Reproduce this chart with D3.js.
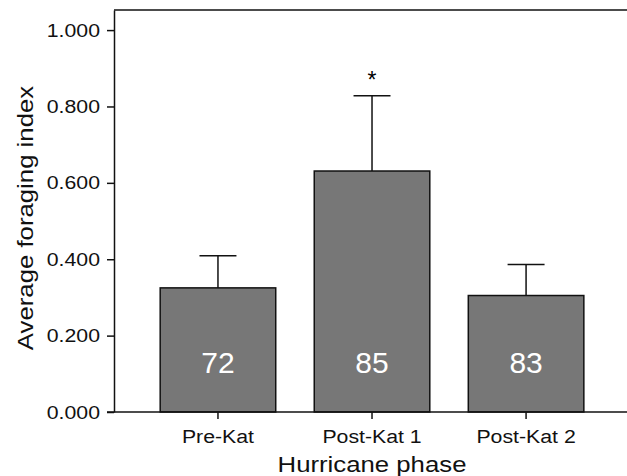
<!DOCTYPE html>
<html>
<head>
<meta charset="utf-8">
<script src="https://cdn.jsdelivr.net/npm/d3@7"></script>
<style>
  body { margin: 0; background: #fff; }
  text { font-family: "Liberation Sans", Arial, Helvetica, sans-serif; }
</style>
</head>
<body>
<div id="chart"></div>
<script>
// data
const phases = ["Pre-Kat", "Post-Kat 1", "Post-Kat 2"];
const means = [0.325, 0.631, 0.305];
const errUpper = [0.409, 0.828, 0.386];
const sampleSizes = [72, 85, 83];
const significant = [false, true, false];
const yTicks = [0, 0.2, 0.4, 0.6, 0.8, 1.0];

const W = 627, H = 476;
const plotLeft = 114, plotRight = 627, plotTop = 10, plotBottom = 412;
const stretch = 1.12; // labels in the figure are a little wider than Arial

const svg = d3.select("#chart")
  .append("svg")
  .attr("width", W)
  .attr("height", H);

const x = d3.scaleBand()
  .domain(phases)
  .range([plotLeft, plotRight])
  .paddingInner(0.25)
  .paddingOuter(0.29)
  .align(0.517);

const y = d3.scaleLinear()
  .domain([0, 1.0526])
  .range([plotBottom, plotTop]);

// Bars
svg.selectAll(".bar")
  .data(phases)
  .enter()
  .append("rect")
  .attr("x", (d) => x(d))
  .attr("y", (d, i) => y(means[i]))
  .attr("width", x.bandwidth())
  .attr("height", (d, i) => y(0) - y(means[i]))
  .attr("fill", "#777777")
  .attr("stroke", "#111")
  .attr("stroke-width", 1.5);

// Error bars (upper only)
const cap = x.bandwidth() * 0.32;
phases.forEach((p, i) => {
  const cx = x(p) + x.bandwidth() / 2;
  svg.append("line")
    .attr("x1", cx).attr("x2", cx)
    .attr("y1", y(means[i])).attr("y2", y(errUpper[i]))
    .attr("stroke", "#111").attr("stroke-width", 1.5);
  svg.append("line")
    .attr("x1", cx - cap / 2).attr("x2", cx + cap / 2)
    .attr("y1", y(errUpper[i])).attr("y2", y(errUpper[i]))
    .attr("stroke", "#111").attr("stroke-width", 1.5);
  if (significant[i]) {
    svg.append("text")
      .attr("x", cx)
      .attr("y", y(errUpper[i]) - 8)
      .attr("text-anchor", "middle")
      .attr("font-size", 23)
      .text("*");
  }
  // sample size inside bar
  svg.append("text")
    .attr("x", cx)
    .attr("y", 373)
    .attr("text-anchor", "middle")
    .attr("font-size", 30)
    .attr("fill", "#fff")
    .text(sampleSizes[i]);
});

// Top frame line
svg.append("line")
  .attr("x1", plotLeft).attr("x2", plotRight)
  .attr("y1", plotTop).attr("y2", plotTop)
  .attr("stroke", "#111").attr("stroke-width", 1.5);

// Axes
const yAxis = svg.append("g")
  .attr("transform", `translate(${plotLeft},0)`)
  .call(d3.axisLeft(y).tickValues(yTicks).tickFormat(d3.format(".3f")).tickSize(7).tickSizeOuter(0));
yAxis.select(".domain").attr("stroke", "#111").attr("stroke-width", 1.5);
yAxis.selectAll(".tick line").attr("stroke", "#111").attr("stroke-width", 1.5);
yAxis.selectAll("text").attr("font-size", 19).attr("fill", "#111")
  .attr("font-family", "Liberation Sans, Arial, sans-serif")
  .attr("x", -14 / stretch)
  .attr("transform", `scale(${stretch},1)`);

const xAxis = svg.append("g")
  .attr("transform", `translate(0,${plotBottom})`)
  .call(d3.axisBottom(x).tickSize(7).tickSizeOuter(0));
xAxis.select(".domain").attr("stroke", "#111").attr("stroke-width", 1.5)
  .attr("d", `M${plotLeft - 7},0H${plotRight}`);
xAxis.selectAll(".tick line").attr("stroke", "#111").attr("stroke-width", 1.5);
xAxis.selectAll("text").attr("font-size", 19).attr("fill", "#111")
  .attr("font-family", "Liberation Sans, Arial, sans-serif").attr("dy", 0).attr("y", 31)
  .attr("transform", `scale(${stretch},1)`);

// Axis titles
svg.append("text")
  .attr("transform", `translate(372,472) scale(${stretch},1)`)
  .attr("text-anchor", "middle")
  .attr("font-size", 23)
  .attr("fill", "#111")
  .text("Hurricane phase");

svg.append("text")
  .attr("transform", `translate(33,218) rotate(-90) scale(${stretch},1)`)
  .attr("text-anchor", "middle")
  .attr("font-size", 23)
  .attr("fill", "#111")
  .text("Average foraging index");
</script>
</body>
</html>
